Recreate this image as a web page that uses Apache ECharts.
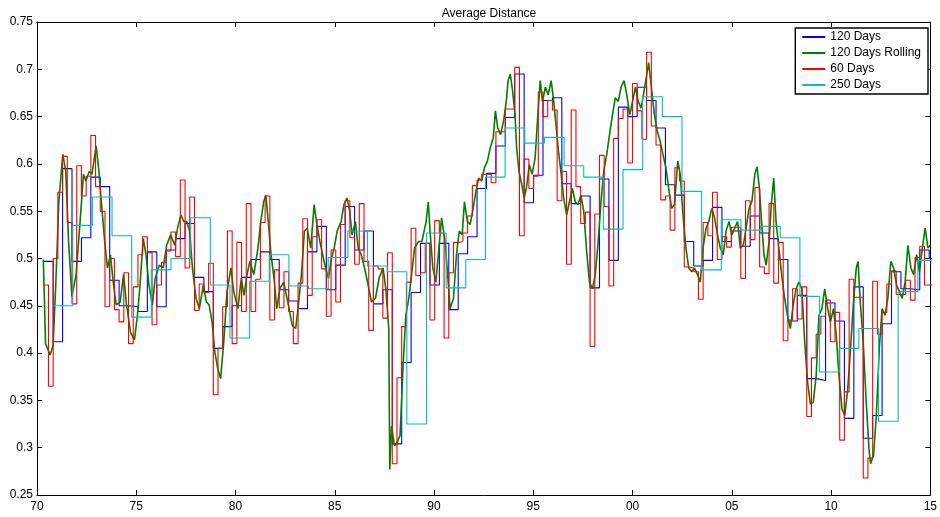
<!DOCTYPE html>
<html>
<head>
<meta charset="utf-8">
<script src="https://cdn.jsdelivr.net/npm/echarts@6/dist/echarts.min.js"></script>
<style>html,body{margin:0;padding:0;background:#fff;}#c{width:940px;height:517px;}</style>
</head>
<body>
<div id="c"></div>
<script>
// ---- data ----
const seriesNames = ['120 Days', '120 Days Rolling', '60 Days', '250 Days'];
const xTickYears = [1970, 1975, 1980, 1985, 1990, 1995, 2000, 2005, 2010, 2015];

// 120 Days Rolling (green)
const greenYears = [1970.32,1970.43,1970.66,1970.81,1970.95,1971.10,1971.30,1971.45,1971.59,1971.76,1971.97,1972.17,1972.34,1972.46,1972.63,1972.77,1972.98,1973.12,1973.27,1973.41,1973.55,1973.70,1973.84,1973.99,1974.19,1974.36,1974.51,1974.71,1974.91,1975.06,1975.20,1975.35,1975.49,1975.64,1975.81,1975.95,1976.16,1976.36,1976.53,1976.73,1976.94,1977.08,1977.25,1977.40,1977.54,1977.69,1977.83,1978.01,1978.18,1978.38,1978.53,1978.67,1978.82,1978.96,1979.10,1979.25,1979.42,1979.57,1979.77,1979.91,1980.12,1980.29,1980.43,1980.58,1980.72,1980.92,1981.13,1981.27,1981.42,1981.53,1981.65,1981.79,1981.94,1982.08,1982.23,1982.43,1982.66,1982.86,1983.03,1983.15,1983.32,1983.47,1983.61,1983.79,1983.96,1984.10,1984.25,1984.39,1984.54,1984.68,1984.83,1984.97,1985.12,1985.32,1985.46,1985.61,1985.75,1985.87,1986.04,1986.18,1986.33,1986.50,1986.68,1986.85,1987.05,1987.23,1987.43,1987.57,1987.72,1987.77,1987.86,1988.01,1988.15,1988.29,1988.44,1988.58,1988.73,1988.87,1989.02,1989.22,1989.39,1989.60,1989.71,1989.80,1989.94,1990.09,1990.20,1990.38,1990.55,1990.66,1990.81,1990.98,1991.13,1991.27,1991.42,1991.53,1991.68,1991.82,1991.97,1992.11,1992.25,1992.40,1992.54,1992.69,1992.83,1992.98,1993.09,1993.21,1993.35,1993.50,1993.64,1993.73,1993.84,1993.96,1994.08,1994.16,1994.28,1994.42,1994.54,1994.65,1994.80,1994.94,1995.09,1995.23,1995.35,1995.46,1995.61,1995.75,1995.90,1996.01,1996.16,1996.27,1996.39,1996.53,1996.68,1996.82,1996.97,1997.11,1997.25,1997.40,1997.54,1997.69,1997.83,1997.98,1998.12,1998.27,1998.41,1998.55,1998.70,1998.84,1998.99,1999.13,1999.28,1999.42,1999.57,1999.71,1999.86,2000.00,2000.14,2000.29,2000.43,2000.58,2000.72,2000.81,2000.95,2001.10,2001.24,2001.39,2001.53,2001.68,2001.82,2001.97,2002.11,2002.28,2002.40,2002.54,2002.69,2002.83,2002.98,2003.12,2003.27,2003.41,2003.55,2003.70,2003.84,2003.99,2004.13,2004.28,2004.42,2004.57,2004.71,2004.86,2005.00,2005.14,2005.29,2005.43,2005.58,2005.72,2005.87,2006.01,2006.16,2006.27,2006.39,2006.50,2006.62,2006.73,2006.88,2006.99,2007.11,2007.23,2007.37,2007.51,2007.66,2007.80,2007.95,2008.09,2008.24,2008.38,2008.53,2008.67,2008.82,2008.96,2009.10,2009.25,2009.39,2009.54,2009.68,2009.83,2009.97,2010.12,2010.26,2010.40,2010.55,2010.69,2010.84,2010.98,2011.13,2011.27,2011.36,2011.47,2011.62,2011.76,2011.91,2011.99,2012.14,2012.28,2012.43,2012.57,2012.72,2012.86,2013.01,2013.15,2013.30,2013.44,2013.58,2013.73,2013.87,2014.02,2014.16,2014.31,2014.45,2014.60,2014.74,2014.88,2015.00];
const greenValues = [0.499,0.410,0.398,0.408,0.475,0.560,0.610,0.592,0.518,0.460,0.483,0.539,0.589,0.582,0.592,0.589,0.619,0.592,0.553,0.518,0.490,0.504,0.475,0.451,0.454,0.483,0.451,0.422,0.414,0.440,0.475,0.521,0.504,0.472,0.451,0.479,0.493,0.490,0.514,0.525,0.514,0.532,0.546,0.539,0.539,0.529,0.490,0.458,0.447,0.472,0.454,0.451,0.433,0.401,0.384,0.373,0.415,0.465,0.490,0.465,0.447,0.479,0.461,0.483,0.497,0.483,0.511,0.539,0.560,0.567,0.539,0.504,0.479,0.447,0.468,0.475,0.451,0.429,0.426,0.447,0.483,0.529,0.532,0.511,0.557,0.536,0.518,0.504,0.490,0.479,0.500,0.511,0.529,0.539,0.557,0.564,0.550,0.525,0.539,0.511,0.504,0.490,0.472,0.454,0.458,0.479,0.490,0.468,0.426,0.277,0.323,0.302,0.306,0.313,0.387,0.440,0.458,0.483,0.511,0.518,0.518,0.539,0.560,0.529,0.490,0.475,0.500,0.543,0.518,0.490,0.447,0.458,0.504,0.529,0.525,0.560,0.539,0.536,0.553,0.571,0.585,0.582,0.596,0.603,0.617,0.627,0.656,0.638,0.631,0.645,0.666,0.688,0.695,0.677,0.652,0.617,0.592,0.578,0.564,0.574,0.599,0.589,0.606,0.652,0.688,0.666,0.681,0.673,0.688,0.670,0.638,0.613,0.592,0.564,0.546,0.560,0.574,0.560,0.557,0.567,0.550,0.507,0.475,0.468,0.483,0.518,0.560,0.592,0.610,0.631,0.652,0.670,0.666,0.681,0.688,0.673,0.652,0.666,0.681,0.666,0.659,0.677,0.695,0.707,0.681,0.652,0.635,0.624,0.610,0.596,0.574,0.553,0.557,0.603,0.589,0.546,0.511,0.490,0.486,0.490,0.483,0.475,0.511,0.532,0.539,0.553,0.543,0.525,0.511,0.504,0.529,0.539,0.525,0.532,0.539,0.511,0.514,0.532,0.553,0.560,0.589,0.597,0.574,0.539,0.504,0.493,0.518,0.557,0.585,0.539,0.511,0.483,0.458,0.440,0.426,0.451,0.468,0.475,0.468,0.412,0.369,0.346,0.348,0.376,0.440,0.447,0.468,0.447,0.433,0.447,0.419,0.376,0.341,0.334,0.362,0.405,0.454,0.490,0.497,0.454,0.412,0.352,0.299,0.283,0.292,0.334,0.405,0.447,0.440,0.458,0.497,0.490,0.472,0.465,0.458,0.475,0.514,0.490,0.483,0.504,0.486,0.511,0.532,0.511,0.514];

// 120 Days (blue) - step values, period length in years
const blueStart = 1970.34, blueStep = 0.4745;
const blueValues = [0.497,0.412,0.595,0.497,0.522,0.586,0.576,0.477,0.450,0.449,0.444,0.507,0.449,0.509,0.521,0.537,0.480,0.465,0.405,0.428,0.450,0.480,0.499,0.507,0.499,0.467,0.455,0.447,0.507,0.534,0.467,0.493,0.555,0.509,0.529,0.452,0.467,0.304,0.390,0.464,0.516,0.472,0.516,0.446,0.505,0.523,0.574,0.590,0.619,0.649,0.695,0.559,0.588,0.667,0.670,0.579,0.558,0.566,0.469,0.584,0.498,0.660,0.650,0.681,0.667,0.638,0.578,0.567,0.518,0.492,0.498,0.554,0.518,0.529,0.513,0.545,0.527,0.521,0.499,0.434,0.461,0.373,0.371,0.453,0.434,0.331,0.470,0.310,0.334,0.431,0.486,0.468,0.467,0.509,0.500];

// 60 Days (red)
const redStart = 1970.34, redStep = 0.23725;
const redValues = [0.472,0.365,0.500,0.570,0.608,0.538,0.452,0.598,0.566,0.587,0.630,0.576,0.550,0.449,0.500,0.446,0.433,0.485,0.410,0.470,0.504,0.523,0.506,0.430,0.472,0.496,0.508,0.528,0.502,0.583,0.490,0.565,0.445,0.473,0.464,0.495,0.356,0.405,0.449,0.529,0.410,0.517,0.444,0.558,0.444,0.478,0.538,0.566,0.435,0.488,0.448,0.486,0.444,0.410,0.474,0.542,0.461,0.523,0.541,0.489,0.439,0.509,0.454,0.536,0.561,0.522,0.494,0.558,0.497,0.424,0.492,0.489,0.437,0.506,0.283,0.374,0.428,0.475,0.532,0.482,0.485,0.516,0.435,0.540,0.527,0.416,0.485,0.517,0.518,0.527,0.545,0.577,0.583,0.589,0.589,0.580,0.634,0.634,0.658,0.658,0.702,0.524,0.605,0.574,0.587,0.676,0.650,0.667,0.657,0.561,0.592,0.494,0.657,0.576,0.537,0.549,0.407,0.547,0.609,0.555,0.471,0.627,0.648,0.658,0.601,0.685,0.656,0.626,0.718,0.640,0.620,0.562,0.566,0.530,0.596,0.582,0.491,0.490,0.486,0.457,0.538,0.524,0.570,0.499,0.523,0.512,0.533,0.533,0.479,0.561,0.520,0.575,0.491,0.484,0.558,0.474,0.517,0.413,0.435,0.468,0.436,0.470,0.333,0.395,0.420,0.439,0.456,0.412,0.443,0.308,0.359,0.478,0.459,0.459,0.268,0.289,0.476,0.420,0.443,0.473,0.487,0.462,0.462,0.477,0.456,0.501,0.513,0.472,0.472,0.490];

// 250 Days (cyan)
const cyanStart = 1970.81, cyanStep = 0.99;
const cyanValues = [0.450,0.535,0.565,0.524,0.438,0.488,0.500,0.543,0.472,0.416,0.476,0.504,0.471,0.468,0.501,0.529,0.492,0.486,0.325,0.527,0.469,0.499,0.586,0.638,0.622,0.628,0.598,0.586,0.531,0.594,0.671,0.650,0.571,0.488,0.541,0.530,0.534,0.522,0.460,0.380,0.405,0.426,0.328,0.465,0.498];

// ---- build ----
function stepData(start, step, values) {
  const d = values.map((v, i) => [start + i * step, v]);
  d.push([start + values.length * step, values[values.length - 1]]);
  return d;
}
const greenData = greenYears.map((y, i) => [y, greenValues[i]]);

const chart = echarts.init(document.getElementById('c'), null, {renderer: 'canvas'});
const FONT = 'Liberation Sans, Arial, Helvetica, sans-serif';
const axisCommon = {
  axisLine: {show: true, lineStyle: {color: '#000', width: 1}},
  axisTick: {show: true, inside: true, length: 5, lineStyle: {color: '#000', width: 1}},
  splitLine: {show: false}
};
chart.setOption({
  animation: false,
  backgroundColor: '#fff',
  title: {
    text: 'Average Distance', left: 484, top: 3, textAlign: 'center',
    textStyle: {fontSize: 12, fontWeight: 'normal', color: '#000', fontFamily: FONT}
  },
  grid: {left: 37, right: 9, top: 22, bottom: 22, containLabel: false},
  legend: {
    data: seriesNames, orient: 'vertical', right: 12, top: 28,
    backgroundColor: '#fff', borderColor: '#000', borderWidth: 1.4,
    padding: [2, 7, 2, 7], itemGap: 2, itemWidth: 23, itemHeight: 2, icon: 'rect',
    textStyle: {fontSize: 12, lineHeight: 14, color: '#000', fontFamily: FONT}
  },
  xAxis: [
    Object.assign({type: 'value', min: 1970, max: 2015, interval: 5, position: 'bottom',
      axisLabel: {color: '#000', fontSize: 12, fontFamily: FONT, margin: 6,
        formatter: v => String(Math.round(v) % 100).padStart(2, '0')}}, axisCommon),
    Object.assign({type: 'value', min: 1970, max: 2015, interval: 5, position: 'top',
      axisLabel: {show: false}}, axisCommon)
  ],
  yAxis: [
    Object.assign({type: 'value', min: 0.25, max: 0.75, interval: 0.05, position: 'left',
      axisLabel: {color: '#000', fontSize: 12, fontFamily: FONT, margin: 4,
        formatter: v => String(parseFloat(v.toFixed(2)))}}, axisCommon),
    Object.assign({type: 'value', min: 0.25, max: 0.75, interval: 0.05, position: 'right',
      axisLabel: {show: false}}, axisCommon)
  ],
  series: [
    {name: seriesNames[0], type: 'line', step: 'end', symbol: 'none', data: stepData(blueStart, blueStep, blueValues),
      lineStyle: {color: '#0000ff', width: 1.1}, itemStyle: {color: '#0000ff'}, z: 2},
    {name: seriesNames[1], type: 'line', symbol: 'none', data: greenData,
      lineStyle: {color: '#008000', width: 1.6}, itemStyle: {color: '#008000'}, z: 3},
    {name: seriesNames[2], type: 'line', step: 'end', symbol: 'none', data: stepData(redStart, redStep, redValues),
      lineStyle: {color: '#ff0000', width: 1.1}, itemStyle: {color: '#ff0000'}, z: 4},
    {name: seriesNames[3], type: 'line', step: 'end', symbol: 'none', data: stepData(cyanStart, cyanStep, cyanValues),
      lineStyle: {color: '#00bfbf', width: 1.1}, itemStyle: {color: '#00bfbf'}, z: 5}
  ]
});
</script>
</body>
</html>
